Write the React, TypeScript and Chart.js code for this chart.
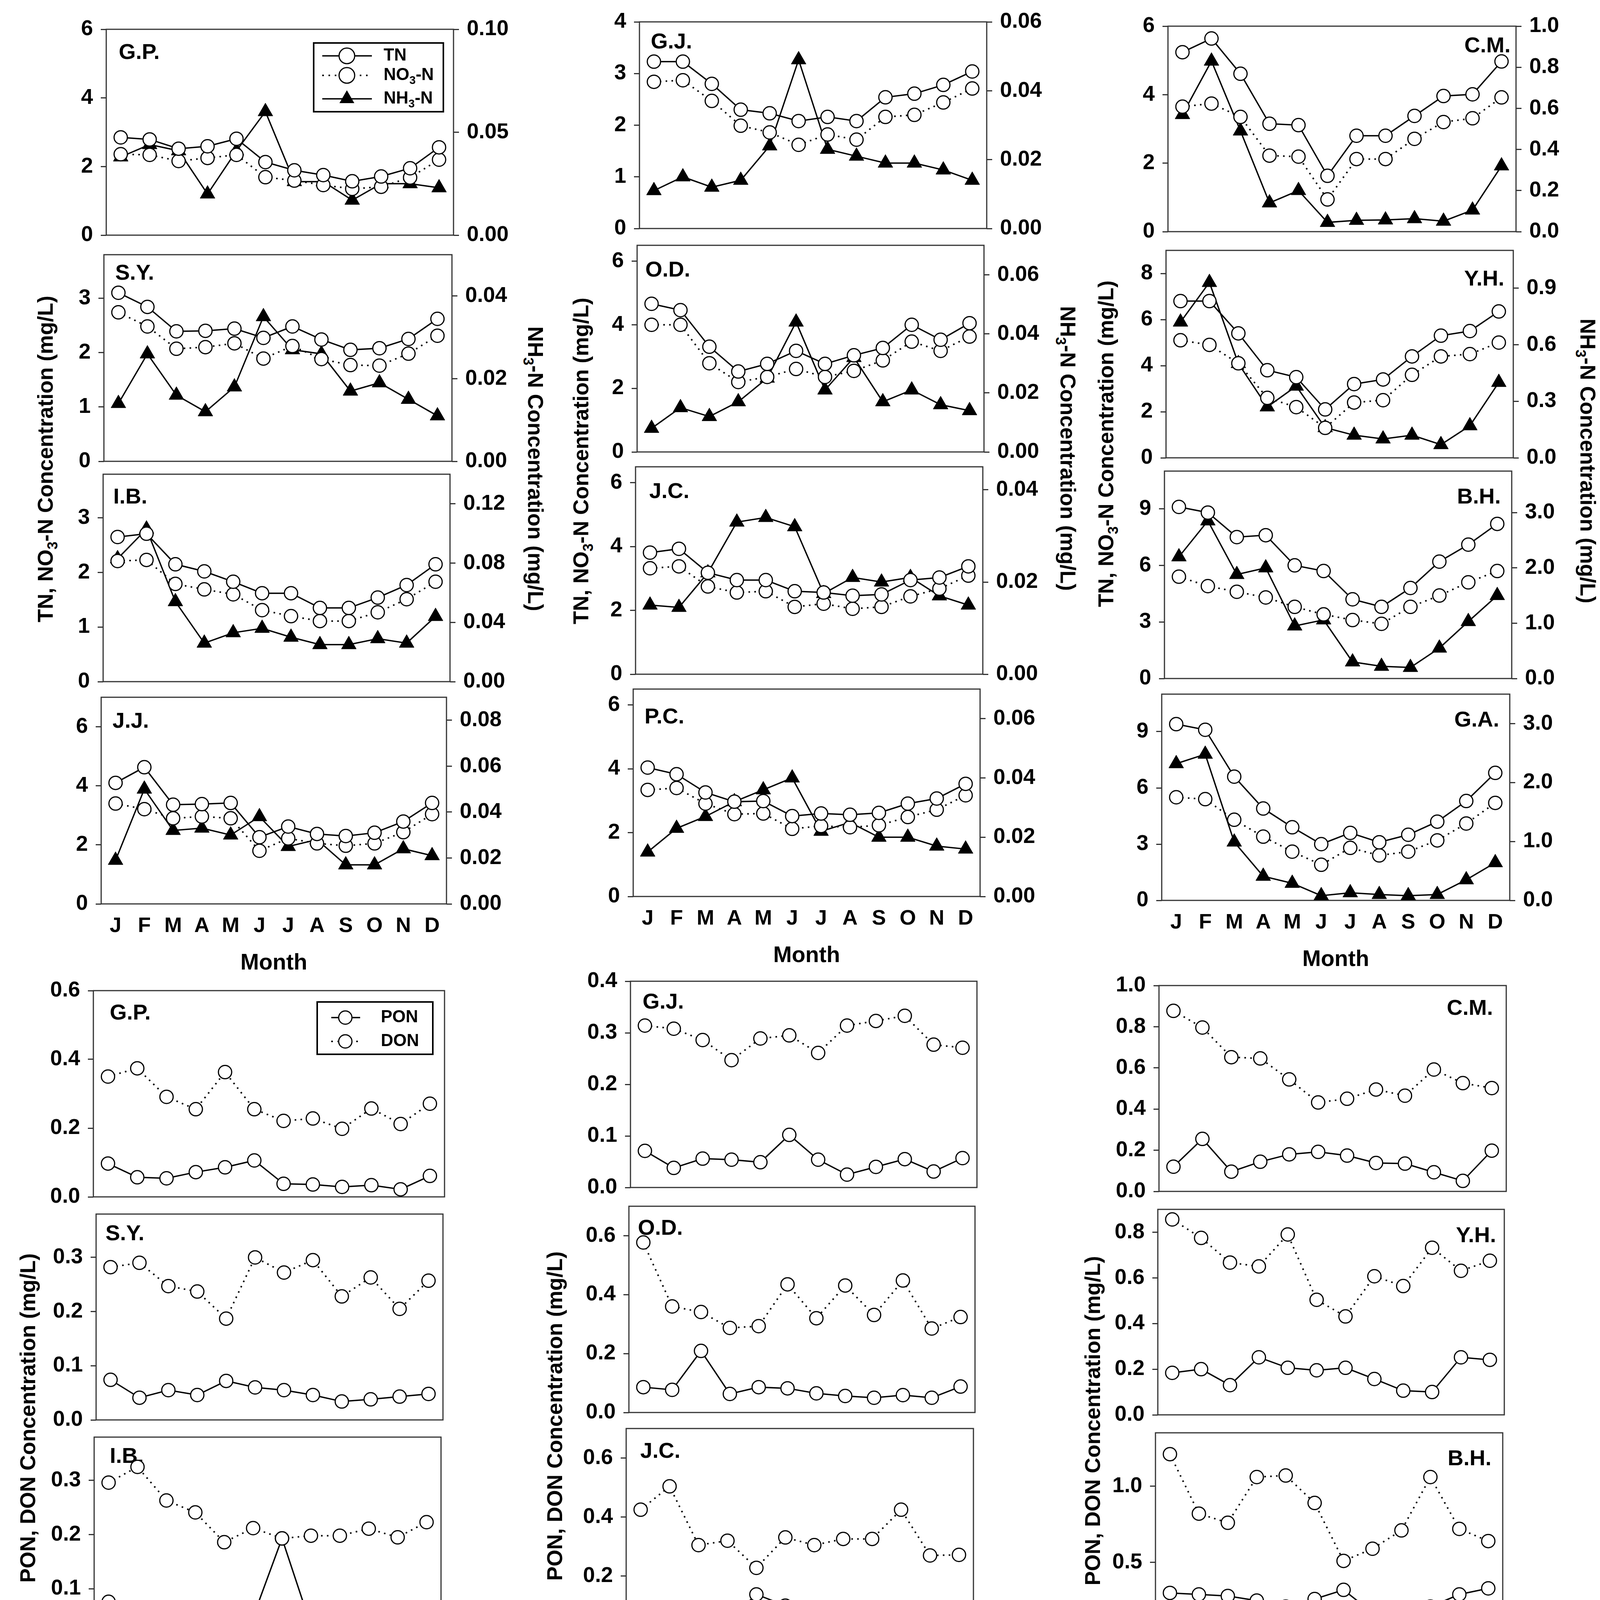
import React, { useEffect, useRef } from 'react';
import { Chart, registerables } from 'chart.js';
Chart.register(...registerables);

const FONT = "'Liberation Sans', Arial, Helvetica, sans-serif";
const months = ['J', 'F', 'M', 'A', 'M', 'J', 'J', 'A', 'S', 'O', 'N', 'D'];

const tnGP = [2.85, 2.79, 2.52, 2.59, 2.81, 2.13, 1.89, 1.75, 1.57, 1.71, 1.95, 2.56];
const no3GP = [2.36, 2.34, 2.16, 2.25, 2.34, 1.69, 1.59, 1.46, 1.35, 1.41, 1.68, 2.2];
const nh3GP = [0.038, 0.044, 0.041, 0.02, 0.041, 0.06, 0.026, 0.026, 0.017, 0.025, 0.025, 0.023];
const tnSY = [3.1, 2.84, 2.39, 2.4, 2.44, 2.27, 2.48, 2.24, 2.05, 2.08, 2.25, 2.62];
const no3SY = [2.74, 2.48, 2.07, 2.1, 2.17, 1.89, 2.12, 1.88, 1.77, 1.76, 1.98, 2.31];
const nh3SY = [0.014, 0.026, 0.016, 0.012, 0.018, 0.035, 0.027, 0.026, 0.017, 0.019, 0.015, 0.011];
const tnIB = [2.65, 2.71, 2.15, 2.02, 1.83, 1.62, 1.62, 1.35, 1.35, 1.54, 1.77, 2.15];
const no3IB = [2.21, 2.23, 1.79, 1.69, 1.6, 1.31, 1.2, 1.11, 1.11, 1.27, 1.51, 1.83];
const nh3IB = [0.083, 0.103, 0.054, 0.026, 0.033, 0.036, 0.03, 0.025, 0.025, 0.029, 0.026, 0.044];
const tnJJ = [4.1, 4.63, 3.36, 3.38, 3.42, 2.26, 2.62, 2.37, 2.3, 2.41, 2.79, 3.42];
const no3JJ = [3.4, 3.21, 2.9, 2.96, 2.9, 1.8, 2.22, 2.05, 1.97, 2.05, 2.43, 3.04];
const nh3JJ = [0.019, 0.05, 0.032, 0.033, 0.03, 0.038, 0.025, 0.028, 0.017, 0.017, 0.024, 0.021];
const tnGJ = [3.23, 3.23, 2.8, 2.3, 2.23, 2.08, 2.16, 2.08, 2.54, 2.61, 2.78, 3.04];
const no3GJ = [2.84, 2.87, 2.47, 1.99, 1.86, 1.62, 1.82, 1.72, 2.16, 2.2, 2.44, 2.71];
const nh3GJ = [0.011, 0.015, 0.012, 0.014, 0.024, 0.049, 0.023, 0.021, 0.019, 0.019, 0.017, 0.014];
const tnOD = [4.66, 4.46, 3.31, 2.53, 2.77, 3.18, 2.77, 3.04, 3.27, 4.0, 3.53, 4.05];
const no3OD = [4.0, 4.0, 2.79, 2.2, 2.36, 2.61, 2.36, 2.55, 2.88, 3.47, 3.18, 3.63];
const nh3OD = [0.008, 0.015, 0.012, 0.017, 0.025, 0.044, 0.021, 0.032, 0.017, 0.021, 0.016, 0.014];
const tnJC = [3.81, 3.93, 3.18, 2.95, 2.95, 2.6, 2.56, 2.46, 2.5, 2.95, 3.03, 3.38];
const no3JC = [3.32, 3.38, 2.75, 2.56, 2.6, 2.11, 2.21, 2.05, 2.11, 2.44, 2.68, 3.09];
const nh3JC = [0.015, 0.0145, 0.022, 0.033, 0.034, 0.032, 0.0175, 0.021, 0.02, 0.021, 0.017, 0.015];
const tnPC = [4.04, 3.83, 3.26, 2.97, 2.99, 2.52, 2.6, 2.56, 2.62, 2.91, 3.07, 3.53];
const no3PC = [3.34, 3.4, 2.91, 2.58, 2.6, 2.12, 2.21, 2.17, 2.23, 2.49, 2.72, 3.17];
const nh3PC = [0.015, 0.023, 0.027, 0.032, 0.036, 0.04, 0.022, 0.025, 0.02, 0.02, 0.017, 0.016];
const tnCM = [5.24, 5.64, 4.61, 3.15, 3.11, 1.63, 2.8, 2.8, 3.38, 3.96, 4.01, 4.97];
const no3CM = [3.65, 3.74, 3.35, 2.22, 2.19, 0.94, 2.12, 2.12, 2.71, 3.2, 3.31, 3.92];
const nh3CM = [0.57, 0.83, 0.49, 0.14, 0.2, 0.045, 0.055, 0.057, 0.063, 0.051, 0.105, 0.32];
const tnYH = [6.8, 6.8, 5.4, 3.8, 3.5, 2.1, 3.2, 3.4, 4.4, 5.3, 5.5, 6.35];
const no3YH = [5.1, 4.9, 4.1, 2.6, 2.2, 1.3, 2.4, 2.5, 3.6, 4.4, 4.5, 5.0];
const nh3YH = [0.72, 0.93, 0.5, 0.27, 0.38, 0.16, 0.12, 0.1, 0.12, 0.07, 0.17, 0.4];
const tnBH = [9.1, 8.8, 7.5, 7.6, 6.0, 5.7, 4.2, 3.8, 4.8, 6.2, 7.1, 8.2];
const no3BH = [5.4, 4.9, 4.6, 4.3, 3.8, 3.4, 3.1, 2.9, 3.8, 4.4, 5.1, 5.7];
const nh3BH = [2.2, 2.85, 1.88, 2.0, 0.95, 1.06, 0.3, 0.22, 0.2, 0.55, 1.03, 1.5];
const tnGA = [9.4, 9.1, 6.6, 4.9, 3.9, 3.0, 3.6, 3.1, 3.5, 4.2, 5.3, 6.8];
const no3GA = [5.5, 5.4, 4.3, 3.4, 2.6, 1.9, 2.8, 2.4, 2.6, 3.2, 4.1, 5.2];
const nh3GA = [2.32, 2.48, 0.99, 0.41, 0.29, 0.08, 0.13, 0.1, 0.08, 0.1, 0.35, 0.64];
const tnWS = [17.0, 17.3, 15.3, 13.6, 10.5, 8.4, 6.8, 5.8, 7.1, 7.5, 8.2, 11.6];
const no3WS = [3.1, 2.5, 2.4, 2.4, 3.4, 3.4, 3.8, 3.3, 4.1, 5.2, 5.0, 5.4];
const nh3WS = [11.9, 13.0, 11.1, 9.5, 4.9, 3.0, 1.4, 1.4, 1.45, 0.5, 1.7, 4.0];
const tnJR = [11.4, 13.5, 11.7, 9.1, 7.7, 7.4, 5.8, 5.1, 6.2, 8.5, 8.8, 11.9];
const no3JR = [6.7, 4.1, 3.6, 5.2, 4.4, 4.6, 3.8, 3.2, 4.5, 6.5, 6.8, 7.3];
const nh3JR = [2.74, 7.38, 5.64, 2.29, 1.68, 1.56, 1.06, 0.95, 0.61, 0.34, 0.67, 2.46];
const tnTC = [13.9, 14.1, 12.8, 12.2, 9.0, 8.1, 5.6, 4.6, 6.5, 9.1, 8.9, 10.5];
const no3TC = [2.8, 2.7, 2.8, 2.9, 3.6, 3.3, 2.9, 2.6, 3.3, 4.7, 4.1, 3.9];
const nh3TC = [8.6, 9.3, 7.6, 6.8, 3.3, 2.8, 1.5, 1.1, 1.8, 1.9, 3.0, 4.1];
const tnAY = [21.3, 21.4, 18.1, 15.0, 12.8, 11.9, 7.4, 5.9, 7.7, 11.1, 12.5, 14.8];
const no3AY = [3.0, 3.3, 3.6, 4.5, 4.9, 5.4, 4.1, 3.0, 5.0, 7.4, 7.5, 7.5];
const nh3AY = [16.0, 15.7, 11.85, 8.4, 5.5, 4.4, 1.37, 1.6, 1.42, 1.37, 2.54, 5.1];

const ponGP = [0.097, 0.057, 0.054, 0.072, 0.086, 0.106, 0.038, 0.036, 0.029, 0.034, 0.022, 0.061];
const donGP = [0.35, 0.374, 0.291, 0.255, 0.363, 0.255, 0.221, 0.228, 0.198, 0.257, 0.212, 0.271];
const ponSY = [0.074, 0.041, 0.055, 0.046, 0.072, 0.06, 0.055, 0.046, 0.034, 0.038, 0.043, 0.048];
const donSY = [0.282, 0.29, 0.247, 0.237, 0.187, 0.3, 0.272, 0.295, 0.228, 0.263, 0.205, 0.257];
const ponIB = [0.076, 0.053, 0.045, 0.054, 0.036, 0.048, 0.193, 0.032, 0.024, 0.04, 0.036, 0.057];
const donIB = [0.296, 0.325, 0.263, 0.241, 0.186, 0.212, 0.193, 0.198, 0.198, 0.211, 0.195, 0.223];
const ponJJ = [0.128, 0.064, 0.064, 0.086, 0.107, 0.08, 0.08, 0.037, 0.037, 0.032, 0.053, 0.064];
const donJJ = [0.51, 1.3, 0.38, 0.36, 0.41, 0.34, 0.3, 0.31, 0.3, 0.34, 0.27, 0.29];
const ponGJ = [0.071, 0.038, 0.056, 0.054, 0.049, 0.102, 0.054, 0.025, 0.04, 0.055, 0.031, 0.057];
const donGJ = [0.314, 0.308, 0.286, 0.247, 0.289, 0.295, 0.261, 0.314, 0.323, 0.333, 0.277, 0.271];
const ponOD = [0.086, 0.077, 0.209, 0.063, 0.086, 0.082, 0.065, 0.056, 0.05, 0.059, 0.05, 0.088];
const donOD = [0.577, 0.36, 0.341, 0.287, 0.293, 0.435, 0.32, 0.431, 0.331, 0.448, 0.285, 0.324];
const ponJC = [0.084, 0.052, 0.059, 0.048, 0.138, 0.1, 0.056, 0.077, 0.048, 0.054, 0.05, 0.046];
const donJC = [0.425, 0.504, 0.305, 0.32, 0.228, 0.331, 0.305, 0.326, 0.326, 0.425, 0.27, 0.272];
const ponPC = [0.18, 0.068, 0.097, 0.087, 0.091, 0.091, 0.062, 0.058, 0.043, 0.041, 0.062, 0.048];
const donPC = [0.493, 0.344, 0.28, 0.284, 0.271, 0.282, 0.308, 0.333, 0.302, 0.395, 0.271, 0.34];
const ponCM = [0.12, 0.255, 0.096, 0.144, 0.18, 0.192, 0.174, 0.138, 0.135, 0.093, 0.051, 0.198];
const donCM = [0.877, 0.796, 0.652, 0.646, 0.544, 0.432, 0.45, 0.495, 0.465, 0.592, 0.526, 0.502];
const ponYH = [0.184, 0.2, 0.13, 0.252, 0.206, 0.195, 0.206, 0.157, 0.106, 0.1, 0.252, 0.241];
const donYH = [0.856, 0.775, 0.667, 0.65, 0.79, 0.504, 0.431, 0.607, 0.564, 0.732, 0.631, 0.675];
const ponBH = [0.3, 0.29, 0.28, 0.25, 0.21, 0.26, 0.32, 0.17, 0.12, 0.21, 0.29, 0.33];
const donBH = [1.21, 0.82, 0.76, 1.06, 1.07, 0.89, 0.51, 0.59, 0.71, 1.06, 0.72, 0.64];
const ponGA = [0.146, 0.35, 0.254, 0.314, 0.206, 0.368, 0.135, 0.119, 0.168, 0.135, 0.119, 0.119];
const donGA = [1.46, 0.866, 1.0, 0.774, 0.758, 0.606, 0.536, 0.466, 0.6, 0.769, 0.698, 0.823];
const ponWS = [0.42, 0.92, 0.54, 0.69, 0.77, 0.44, 0.325, 0.39, 0.295, 0.43, 0.49, 0.7];
const donWS = [1.76, 0.95, 1.46, 1.14, 1.31, 1.47, 1.2, 0.72, 1.3, 1.3, 0.95, 1.46];
const ponJR = [0.38, 0.68, 0.48, 0.48, 0.42, 0.24, 0.17, 0.17, 0.26, 0.27, 0.4, 0.96];
const donJR = [1.62, 1.45, 2.05, 1.15, 1.29, 0.99, 0.81, 0.76, 0.8, 1.43, 0.99, 1.27];
const ponTC = [0.36, 0.66, 0.71, 1.28, 0.62, 0.43, 0.27, 0.31, 0.35, 0.4, 0.57, 0.61];
const donTC = [2.06, 1.46, 1.79, 1.31, 1.55, 1.56, 0.96, 0.75, 1.11, 2.2, 1.37, 1.94];
const ponAY = [0.85, 1.16, 1.18, 0.89, 0.89, 0.41, 0.31, 0.23, 0.32, 0.57, 0.82, 0.64];
const donAY = [1.5, 1.27, 1.49, 1.49, 1.78, 1.79, 1.72, 0.96, 0.98, 1.9, 1.76, 1.7];

const yGP = [0, 2, 4, 6], y2GP = [0, 0.05, 0.1];
const ySY = [0, 1, 2, 3], y2SY = [0, 0.02, 0.04];
const yIB = [0, 1, 2, 3], y2IB = [0, 0.04, 0.08, 0.12];
const yJJ = [0, 2, 4, 6], y2JJ = [0, 0.02, 0.04, 0.06, 0.08];
const yGJ = [0, 1, 2, 3, 4], y2GJ = [0, 0.02, 0.04, 0.06];
const yOD = [0, 2, 4, 6], y2OD = [0, 0.02, 0.04, 0.06];
const yJC = [0, 2, 4, 6], y2JC = [0, 0.02, 0.04];
const yPC = [0, 2, 4, 6], y2PC = [0, 0.02, 0.04, 0.06];
const yCM = [0, 2, 4, 6], y2CM = [0, 0.2, 0.4, 0.6, 0.8, 1.0];
const yYH = [0, 2, 4, 6, 8], y2YH = [0, 0.3, 0.6, 0.9];
const yBH = [0, 3, 6, 9], y2BH = [0, 1, 2, 3];
const yGA = [0, 3, 6, 9], y2GA = [0, 1, 2, 3];
const yWS = [0, 5, 10, 15, 20], y2WS = [0, 5, 10, 15];
const yJR = [0, 5, 10, 15], y2JR = [0, 2, 4, 6, 8];
const yTC = [0, 5, 10, 15], y2TC = [0, 3, 6, 9, 12];
const yAY = [0, 10, 20], y2AY = [0, 5, 10, 15];

const bGP = [0, 0.2, 0.4, 0.6], bSY = [0, 0.1, 0.2, 0.3], bIB = [0, 0.1, 0.2, 0.3], bJJ = [0, 0.5, 1.0, 1.5];
const bGJ = [0, 0.1, 0.2, 0.3, 0.4], bOD = [0, 0.2, 0.4, 0.6], bJC = [0, 0.2, 0.4, 0.6], bPC = [0, 0.2, 0.4, 0.6];
const bCM = [0, 0.2, 0.4, 0.6, 0.8, 1.0], bYH = [0, 0.2, 0.4, 0.6, 0.8], bBH = [0, 0.5, 1.0], bGA = [0, 0.5, 1.0, 1.5];
const bWS = [0, 0.5, 1.0, 1.5, 2.0], bJR = [0, 0.5, 1.0, 1.5, 2.0], bTC = [0, 0.5, 1.0, 1.5, 2.0], bAY = [0, 0.5, 1.0, 1.5, 2.0];

const LM = 220, RM = 230, TM = 50, BM = 100;

type Series = { name: string; data: number[]; kind: 'solid' | 'dot' | 'tri'; axis: 'y' | 'y2' };
type Panel = {
  name: string; series: Series[];
  L: number; T: number; R: number; B: number;
  yMax: number; yTicks: number[]; yDec: number;
  y2Max?: number; y2Ticks?: number[]; y2Dec?: number;
  lx: number; ly: number; la: 'left' | 'right';
  showX?: boolean; legend?: 'top' | 'bottom';
};

const top = (tn: number[], no3: number[], nh3: number[]): Series[] => [
  { name: 'TN', data: tn, kind: 'solid', axis: 'y' },
  { name: 'NO3-N', data: no3, kind: 'dot', axis: 'y' },
  { name: 'NH3-N', data: nh3, kind: 'tri', axis: 'y2' },
];
const bot = (pon: number[], don: number[]): Series[] => [
  { name: 'PON', data: pon, kind: 'solid', axis: 'y' },
  { name: 'DON', data: don, kind: 'dot', axis: 'y' },
];

const topPanels: Panel[] = [
  { name: 'G.P.', series: top(tnGP, no3GP, nh3GP), L: 272, T: 72, R: 1161, B: 602, yMax: 6, yTicks: yGP, yDec: 0, y2Max: 0.1, y2Ticks: y2GP, y2Dec: 2, lx: 32, ly: 60, la: 'left', legend: 'top' },
  { name: 'S.Y.', series: top(tnSY, no3SY, nh3SY), L: 266, T: 649, R: 1157, B: 1181, yMax: 3.8, yTicks: ySY, yDec: 0, y2Max: 0.05, y2Ticks: y2SY, y2Dec: 2, lx: 29, ly: 48, la: 'left' },
  { name: 'I.B.', series: top(tnIB, no3IB, nh3IB), L: 264, T: 1211, R: 1152, B: 1745, yMax: 3.8, yTicks: yIB, yDec: 0, y2Max: 0.14, y2Ticks: y2IB, y2Dec: 2, lx: 26, ly: 59, la: 'left' },
  { name: 'J.J.', series: top(tnJJ, no3JJ, nh3JJ), L: 259, T: 1782, R: 1143, B: 2314, yMax: 7, yTicks: yJJ, yDec: 0, y2Max: 0.09, y2Ticks: y2JJ, y2Dec: 2, lx: 29, ly: 62, la: 'left', showX: true },
  { name: 'G.J.', series: top(tnGJ, no3GJ, nh3GJ), L: 1637, T: 53, R: 2526, B: 585, yMax: 4, yTicks: yGJ, yDec: 0, y2Max: 0.06, y2Ticks: y2GJ, y2Dec: 2, lx: 29, ly: 52, la: 'left' },
  { name: 'O.D.', series: top(tnOD, no3OD, nh3OD), L: 1631, T: 625, R: 2519, B: 1157, yMax: 6.5, yTicks: yOD, yDec: 0, y2Max: 0.07, y2Ticks: y2OD, y2Dec: 2, lx: 21, ly: 64, la: 'left' },
  { name: 'J.C.', series: top(tnJC, no3JC, nh3JC), L: 1627, T: 1192, R: 2516, B: 1726, yMax: 6.5, yTicks: yJC, yDec: 0, y2Max: 0.045, y2Ticks: y2JC, y2Dec: 2, lx: 35, ly: 64, la: 'left' },
  { name: 'P.C.', series: top(tnPC, no3PC, nh3PC), L: 1621, T: 1761, R: 2509, B: 2295, yMax: 6.5, yTicks: yPC, yDec: 0, y2Max: 0.07, y2Ticks: y2PC, y2Dec: 2, lx: 29, ly: 72, la: 'left', showX: true },
  { name: 'C.M.', series: top(tnCM, no3CM, nh3CM), L: 2990, T: 64, R: 3881, B: 593, yMax: 6, yTicks: yCM, yDec: 0, y2Max: 1.0, y2Ticks: y2CM, y2Dec: 1, lx: 14, ly: 51, la: 'right' },
  { name: 'Y.H.', series: top(tnYH, no3YH, nh3YH), L: 2985, T: 638, R: 3874, B: 1172, yMax: 9, yTicks: yYH, yDec: 0, y2Max: 1.1, y2Ticks: y2YH, y2Dec: 1, lx: 23, ly: 74, la: 'right' },
  { name: 'B.H.', series: top(tnBH, no3BH, nh3BH), L: 2981, T: 1203, R: 3870, B: 1737, yMax: 11, yTicks: yBH, yDec: 0, y2Max: 3.75, y2Ticks: y2BH, y2Dec: 1, lx: 28, ly: 67, la: 'right' },
  { name: 'G.A.', series: top(tnGA, no3GA, nh3GA), L: 2974, T: 1774, R: 3865, B: 2305, yMax: 11, yTicks: yGA, yDec: 0, y2Max: 3.5, y2Ticks: y2GA, y2Dec: 1, lx: 27, ly: 67, la: 'right', showX: true },
  { name: 'W.S.', series: top(tnWS, no3WS, nh3WS), L: 4365, T: 53, R: 5256, B: 585, yMax: 20, yTicks: yWS, yDec: 0, y2Max: 15, y2Ticks: y2WS, y2Dec: 0, lx: 34, ly: 71, la: 'right' },
  { name: 'J.R.', series: top(tnJR, no3JR, nh3JR), L: 4362, T: 625, R: 5255, B: 1157, yMax: 17, yTicks: yJR, yDec: 0, y2Max: 9.5, y2Ticks: y2JR, y2Dec: 0, lx: 29, ly: 76, la: 'right' },
  { name: 'T.C.', series: top(tnTC, no3TC, nh3TC), L: 4352, T: 1192, R: 5243, B: 1726, yMax: 17, yTicks: yTC, yDec: 0, y2Max: 14, y2Ticks: y2TC, y2Dec: 0, lx: 25, ly: 72, la: 'right' },
  { name: 'A.Y.', series: top(tnAY, no3AY, nh3AY), L: 4339, T: 1769, R: 5229, B: 2303, yMax: 27, yTicks: yAY, yDec: 0, y2Max: 17, y2Ticks: y2AY, y2Dec: 0, lx: 48, ly: 85, la: 'right', showX: true },
];

const botPanels: Panel[] = [
  { name: 'G.P.', series: bot(ponGP, donGP), L: 239, T: 2533, R: 1138, B: 3064, yMax: 0.6, yTicks: bGP, yDec: 1, lx: 42, ly: 58, la: 'left', legend: 'bottom' },
  { name: 'S.Y.', series: bot(ponSY, donSY), L: 246, T: 3105, R: 1134, B: 3635, yMax: 0.38, yTicks: bSY, yDec: 1, lx: 24, ly: 51, la: 'left' },
  { name: 'I.B.', series: bot(ponIB, donIB), L: 241, T: 3676, R: 1129, B: 4206, yMax: 0.38, yTicks: bIB, yDec: 1, lx: 40, ly: 50, la: 'left' },
  { name: 'J.J.', series: bot(ponJJ, donJJ), L: 234, T: 4243, R: 1122, B: 4774, yMax: 1.8, yTicks: bJJ, yDec: 1, lx: 32, ly: 56, la: 'left', showX: true },
  { name: 'G.J.', series: bot(ponGJ, donGJ), L: 1614, T: 2509, R: 2501, B: 3040, yMax: 0.4, yTicks: bGJ, yDec: 1, lx: 31, ly: 54, la: 'left' },
  { name: 'O.D.', series: bot(ponOD, donOD), L: 1610, T: 3085, R: 2496, B: 3616, yMax: 0.7, yTicks: bOD, yDec: 1, lx: 23, ly: 57, la: 'left' },
  { name: 'J.C.', series: bot(ponJC, donJC), L: 1603, T: 3654, R: 2492, B: 4186, yMax: 0.7, yTicks: bJC, yDec: 1, lx: 36, ly: 59, la: 'left' },
  { name: 'P.C.', series: bot(ponPC, donPC), L: 1597, T: 4222, R: 2487, B: 4755, yMax: 0.7, yTicks: bPC, yDec: 1, lx: 30, ly: 64, la: 'left', showX: true },
  { name: 'C.M.', series: bot(ponCM, donCM), L: 2967, T: 2520, R: 3856, B: 3050, yMax: 1.0, yTicks: bCM, yDec: 1, lx: 34, ly: 59, la: 'right' },
  { name: 'Y.H.', series: bot(ponYH, donYH), L: 2964, T: 3093, R: 3851, B: 3622, yMax: 0.9, yTicks: bYH, yDec: 1, lx: 21, ly: 68, la: 'right' },
  { name: 'B.H.', series: bot(ponBH, donBH), L: 2958, T: 3665, R: 3847, B: 4195, yMax: 1.35, yTicks: bBH, yDec: 1, lx: 29, ly: 67, la: 'right' },
  { name: 'G.A.', series: bot(ponGA, donGA), L: 2952, T: 4230, R: 3840, B: 4763, yMax: 1.8, yTicks: bGA, yDec: 1, lx: 25, ly: 72, la: 'right', showX: true },
  { name: 'W.S.', series: bot(ponWS, donWS), L: 4341, T: 2512, R: 5232, B: 3040, yMax: 2.0, yTicks: bWS, yDec: 1, lx: 43, ly: 67, la: 'right' },
  { name: 'J.R.', series: bot(ponJR, donJR), L: 4336, T: 3085, R: 5232, B: 3614, yMax: 2.4, yTicks: bJR, yDec: 1, lx: 27, ly: 63, la: 'right' },
  { name: 'T.C.', series: bot(ponTC, donTC), L: 4329, T: 3654, R: 5218, B: 4186, yMax: 2.4, yTicks: bTC, yDec: 1, lx: 18, ly: 54, la: 'right' },
  { name: 'A.Y.', series: bot(ponAY, donAY), L: 4315, T: 4227, R: 5205, B: 4763, yMax: 2.4, yTicks: bAY, yDec: 1, lx: 24, ly: 67, la: 'right', showX: true },
];

type Part = { t: string; sub?: boolean };
const legendTopItems: { parts: Part[]; kind: Series['kind']; dy: number }[] = [
  { parts: [{ t: 'TN' }], kind: 'solid', dy: 68 },
  { parts: [{ t: 'NO' }, { t: '3', sub: true }, { t: '-N' }], kind: 'dot', dy: 118 },
  { parts: [{ t: 'NH' }, { t: '3', sub: true }, { t: '-N' }], kind: 'tri', dy: 178 },
];
const legendBotItems: { parts: Part[]; kind: Series['kind']; dy: number }[] = [
  { parts: [{ t: 'PON' }], kind: 'solid', dy: 69 },
  { parts: [{ t: 'DON' }], kind: 'dot', dy: 130 },
];

const TICK_FONT = { family: FONT, size: 55, weight: 'bold' as const };
const AXIS_COLOR = '#333';

const framePlugin = {
  id: 'frame',
  beforeDatasetsDraw(chart: any) {
    const { ctx, chartArea: a } = chart;
    ctx.save();
    ctx.strokeStyle = AXIS_COLOR;
    ctx.lineWidth = 3;
    ctx.strokeRect(a.left, a.top, a.right - a.left, a.bottom - a.top);
    ctx.restore();
  },
};

function drawMarker(ctx: CanvasRenderingContext2D, kind: Series['kind'], x: number, y: number, r: number) {
  ctx.save();
  ctx.setLineDash([]);
  ctx.beginPath();
  if (kind === 'tri') {
    const rr = r * 1.1;
    ctx.moveTo(x, y - rr);
    ctx.lineTo(x + rr * Math.sin((2 * Math.PI) / 3), y + rr * 0.5);
    ctx.lineTo(x - rr * Math.sin((2 * Math.PI) / 3), y + rr * 0.5);
    ctx.closePath();
    ctx.fillStyle = '#000';
    ctx.fill();
  } else {
    ctx.arc(x, y, r, 0, Math.PI * 2);
    ctx.fillStyle = '#fff';
    ctx.fill();
    ctx.lineWidth = 3;
    ctx.strokeStyle = '#000';
    ctx.stroke();
  }
  ctx.restore();
}

function drawParts(ctx: CanvasRenderingContext2D, parts: Part[], x: number, y: number, size: number) {
  let cx = x;
  ctx.textAlign = 'left';
  ctx.textBaseline = 'middle';
  ctx.fillStyle = '#000';
  for (const p of parts) {
    const s = p.sub ? size * 0.66 : size;
    ctx.font = `bold ${s}px ${FONT}`;
    ctx.fillText(p.t, cx, p.sub ? y + size * 0.32 : y);
    cx += ctx.measureText(p.t).width;
  }
}

function makeLegendPlugin(which: 'top' | 'bottom') {
  return {
    id: 'boxLegend',
    afterDraw(chart: any) {
      const { ctx, chartArea: a } = chart;
      const x0 = a.left, y0 = a.top;
      const isTop = which === 'top';
      const box = isTop ? [531, 35, 863, 211] : [573, 29, 869, 163];
      const lineX = isTop ? [553, 680] : [609, 683];
      const mx = isTop ? 616 : 645;
      const tx = isTop ? 710 : 736;
      const r = isTop ? 20 : 17;
      const items = isTop ? legendTopItems : legendBotItems;
      ctx.save();
      ctx.fillStyle = '#fff';
      ctx.fillRect(x0 + box[0], y0 + box[1], box[2] - box[0], box[3] - box[1]);
      ctx.strokeStyle = '#000';
      ctx.lineWidth = 4;
      ctx.strokeRect(x0 + box[0], y0 + box[1], box[2] - box[0], box[3] - box[1]);
      for (const it of items) {
        const y = y0 + it.dy;
        ctx.beginPath();
        ctx.strokeStyle = '#000';
        ctx.lineWidth = it.kind === 'dot' ? 4 : 3.5;
        ctx.setLineDash(it.kind === 'dot' ? [4, 12] : []);
        ctx.moveTo(x0 + lineX[0], y);
        ctx.lineTo(x0 + lineX[1], y);
        ctx.stroke();
        drawMarker(ctx, it.kind, x0 + mx, y, r);
        drawParts(ctx, it.parts, x0 + tx, y, 44);
      }
      ctx.restore();
    },
  };
}

function makeDataset(s: Series) {
  const base: any = {
    label: s.name, data: s.data, yAxisID: s.axis, borderColor: '#000', pointBorderColor: '#000', tension: 0, fill: false, clip: false,
  };
  if (s.kind === 'tri') return { ...base, borderWidth: 3.5, pointStyle: 'triangle', pointRadius: 22, pointBackgroundColor: '#000', pointBorderWidth: 1 };
  if (s.kind === 'dot') return { ...base, borderWidth: 4, borderDash: [4, 11], pointStyle: 'circle', pointRadius: 17, pointBackgroundColor: '#fff', pointBorderWidth: 3 };
  return { ...base, borderWidth: 3.5, pointStyle: 'circle', pointRadius: 17, pointBackgroundColor: '#fff', pointBorderWidth: 3 };
}

function yScale(position: 'left' | 'right', max: number, ticks: number[], dec: number, fitW: number) {
  return {
    type: 'linear' as const, position, min: 0, max,
    afterBuildTicks: (sc: any) => { sc.ticks = ticks.map((v) => ({ value: v })); },
    afterFit: (sc: any) => { sc.width = fitW; },
    ticks: { callback: (v: any) => Number(v).toFixed(dec), font: TICK_FONT, color: '#000', padding: 20 },
    grid: { display: true, drawOnChartArea: false, drawTicks: true, tickLength: 14, tickWidth: 3, tickColor: AXIS_COLOR },
    border: { display: false },
  };
}

function PanelChart({ p }: { p: Panel }) {
  const ref = useRef<HTMLCanvasElement>(null);
  const hasY2 = p.y2Max !== undefined;
  const W = p.R - p.L + LM + RM;
  const H = p.B - p.T + TM + BM;
  useEffect(() => {
    if (!ref.current) return;
    const scales: any = {
      x: {
        type: 'category', offset: true,
        grid: { display: false, drawTicks: false }, border: { display: false },
        ticks: { display: !!p.showX, font: { family: FONT, size: 54, weight: 'bold' }, color: '#000', padding: 25, maxRotation: 0, autoSkip: false },
        afterFit: (sc: any) => { sc.height = BM; },
      },
      y: yScale('left', p.yMax, p.yTicks, p.yDec, LM),
    };
    if (hasY2) scales.y2 = yScale('right', p.y2Max as number, p.y2Ticks as number[], p.y2Dec as number, RM);
    const plugins: any[] = [framePlugin];
    if (p.legend) plugins.push(makeLegendPlugin(p.legend));
    const chart = new Chart(ref.current, {
      type: 'line',
      data: { labels: months, datasets: p.series.map(makeDataset) },
      options: {
        responsive: false, animation: false, devicePixelRatio: 1, events: [],
        layout: { padding: { top: TM, left: 0, right: hasY2 ? 0 : RM, bottom: 0 } },
        plugins: { legend: { display: false }, tooltip: { enabled: false }, title: { display: false } },
        scales,
      } as any,
      plugins,
    });
    return () => chart.destroy();
  }, []);
  return <canvas ref={ref} width={W} height={H} style={{ position: 'absolute', left: p.L - LM, top: p.T - TM, width: W, height: H }} />;
}

const textBase: React.CSSProperties = {
  position: 'absolute', fontFamily: FONT, fontWeight: 'bold', color: '#000', whiteSpace: 'nowrap', lineHeight: 1,
};
const subStyle: React.CSSProperties = { fontSize: '0.66em', position: 'relative', top: '0.32em', verticalAlign: 'baseline' };

function VTitle({ x, y, rot, children }: { x: number; y: number; rot: number; children: React.ReactNode }) {
  return <div style={{ ...textBase, left: x, top: y, fontSize: 55, transform: `translate(-50%, -50%) rotate(${rot}deg)` }}>{children}</div>;
}

function PanelLabel({ p }: { p: Panel }) {
  const style: React.CSSProperties = { ...textBase, fontSize: 56, top: p.T + p.ly, transform: 'translateY(-50%)' };
  if (p.la === 'left') style.left = p.L + p.lx;
  else style.right = 5478 - (p.R - p.lx);
  return <div style={style}>{p.name}</div>;
}

function MonthTitle({ p }: { p: Panel }) {
  return <div style={{ ...textBase, fontSize: 57, left: (p.L + p.R) / 2, top: p.B + 148, transform: 'translate(-50%, -50%)' }}>Month</div>;
}

const leftTopTitles = [[116, 1175], [1487, 1180], [2831, 1136], [4177, 1108]];
const rightTopTitles = [[1370, 1200], [2733, 1148], [4064, 1180], [5411, 1156]];
const leftBotTitles = [[71, 3630], [1420, 3625], [2797, 3637], [4151, 3633]];

export default function App() {
  const all = [...topPanels, ...botPanels];
  return (
    <div style={{ position: 'absolute', left: 0, top: 0, width: 5478, height: 4975, background: '#fff', overflow: 'hidden' }}>
      {all.map((p, i) => <PanelLabel key={'l' + i} p={p} />)}
      {all.filter((p) => p.showX).map((p, i) => <MonthTitle key={'m' + i} p={p} />)}
      {leftTopTitles.map(([x, y], i) => (
        <VTitle key={'lt' + i} x={x} y={y} rot={-90}>TN, NO<span style={subStyle}>3</span>-N Concentration (mg/L)</VTitle>
      ))}
      {rightTopTitles.map(([x, y], i) => (
        <VTitle key={'rt' + i} x={x} y={y} rot={90}>NH<span style={subStyle}>3</span>-N Concentration (mg/L)</VTitle>
      ))}
      {leftBotTitles.map(([x, y], i) => (
        <VTitle key={'lb' + i} x={x} y={y} rot={-90}>PON, DON Concentration (mg/L)</VTitle>
      ))}
      {all.map((p, i) => <PanelChart key={'c' + i} p={p} />)}
    </div>
  );
}
